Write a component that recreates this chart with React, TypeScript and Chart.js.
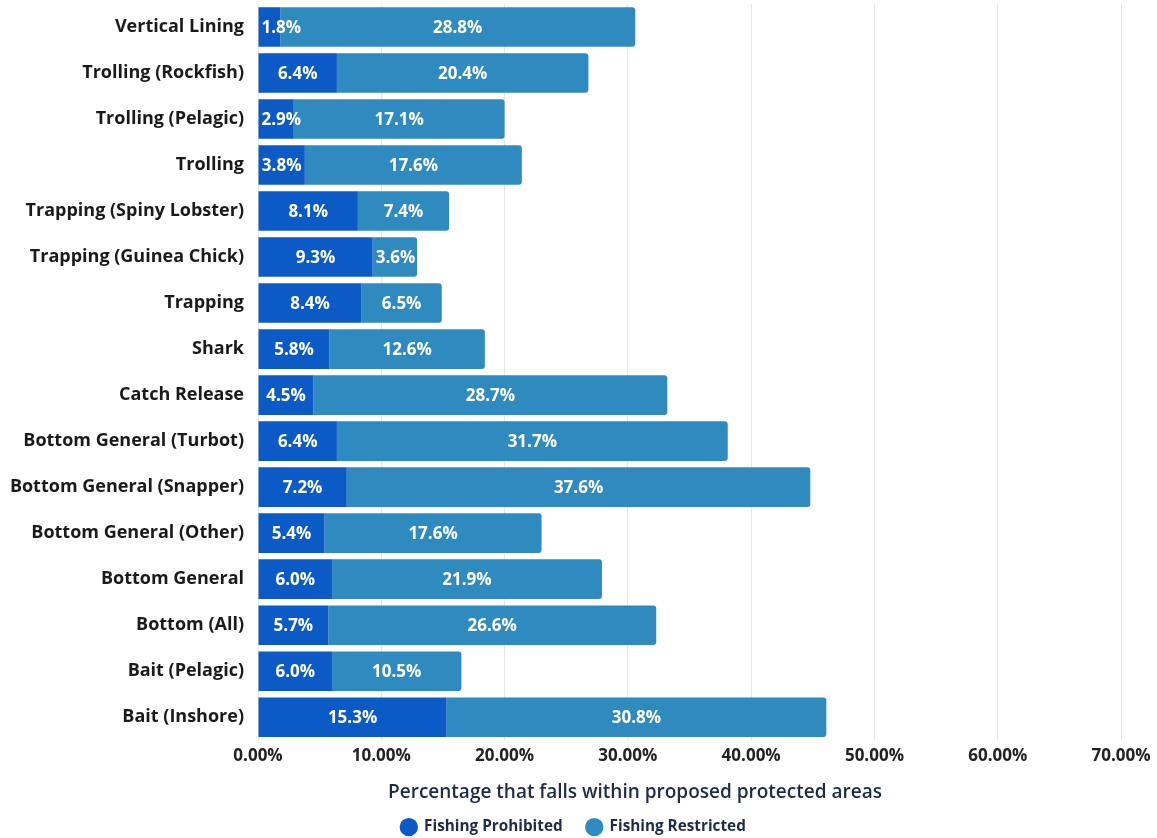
import React, { useEffect, useRef } from "react";
import { Chart, registerables } from "chart.js";

Chart.register(...registerables);

const categories = [
  "Vertical Lining",
  "Trolling (Rockfish)",
  "Trolling (Pelagic)",
  "Trolling",
  "Trapping (Spiny Lobster)",
  "Trapping (Guinea Chick)",
  "Trapping",
  "Shark",
  "Catch Release",
  "Bottom General (Turbot)",
  "Bottom General (Snapper)",
  "Bottom General (Other)",
  "Bottom General",
  "Bottom (All)",
  "Bait (Pelagic)",
  "Bait (Inshore)",
];

const prohibited = [1.8, 6.4, 2.9, 3.8, 8.1, 9.3, 8.4, 5.8, 4.5, 6.4, 7.2, 5.4, 6.0, 5.7, 6.0, 15.3];
const restricted = [28.8, 20.4, 17.1, 17.6, 7.4, 3.6, 6.5, 12.6, 28.7, 31.7, 37.6, 17.6, 21.9, 26.6, 10.5, 30.8];

const seriesNames = ["Fishing Prohibited", "Fishing Restricted"];
const axisTitle = "Percentage that falls within proposed protected areas";
const xTicks = [0, 10, 20, 30, 40, 50, 60, 70];

const FONT = "'Open Sans', 'DejaVu Sans', sans-serif";

const barLabels = {
  id: "barLabels",
  afterDatasetsDraw(chart: any) {
    const ctx = chart.ctx;
    ctx.save();
    ctx.font = `700 17px ${FONT}`;
    ctx.fillStyle = "#ffffff";
    ctx.textBaseline = "middle";
    ctx.textAlign = "center";
    chart.data.datasets.forEach((ds: any, di: number) => {
      const meta = chart.getDatasetMeta(di);
      meta.data.forEach((el: any, i: number) => {
        const v = ds.data[i];
        const txt = v.toFixed(1) + "%";
        const w = ctx.measureText(txt).width;
        const left = Math.min(el.x, el.base);
        const right = Math.max(el.x, el.base);
        let cx = (left + right) / 2;
        if (cx - w / 2 < left + 3) cx = left + 3 + w / 2;
        ctx.fillText(txt, cx, el.y + 1);
      });
    });
    ctx.restore();
  },
};

const axisTitlePlugin = {
  id: "axisTitlePlugin",
  afterLayout(chart: any) {
    if (chart.legend) {
      chart.legend.left += 13;
      chart.legend.right += 13;
    }
  },
  afterDraw(chart: any) {
    const ctx = chart.ctx;
    ctx.save();
    ctx.font = `600 19px ${FONT}`;
    ctx.fillStyle = "#1e2a4a";
    ctx.textAlign = "center";
    ctx.textBaseline = "middle";
    ctx.fillText(axisTitle, 635, 793);
    ctx.restore();
  },
};

export default function App() {
  const ref = useRef<HTMLCanvasElement | null>(null);
  useEffect(() => {
    if (!ref.current) return;
    const chart = new Chart(ref.current, {
      type: "bar",
      data: {
        labels: categories,
        datasets: [
          {
            label: seriesNames[0],
            data: prohibited,
            backgroundColor: "#0b5ac6",
            borderRadius: 3,
            categoryPercentage: 1,
            barPercentage: 0.86,
          },
          {
            label: seriesNames[1],
            data: restricted,
            backgroundColor: "#2e8abf",
            borderRadius: 3,
            categoryPercentage: 1,
            barPercentage: 0.86,
          },
        ],
      },
      options: {
        indexAxis: "y",
        animation: false,
        responsive: true,
        maintainAspectRatio: false,
        layout: { padding: { top: 4, right: 36, left: 0, bottom: -6.75 } },
        scales: {
          x: {
            stacked: true,
            min: 0,
            max: 70,
            afterBuildTicks: (scale: any) => {
              scale.ticks = xTicks.map((v) => ({ value: v }));
            },
            afterFit: (scale: any) => {
              scale.height = 55.25;
            },
            grid: { color: "#e6e6e6", drawTicks: false },
            border: { display: false },
            ticks: {
              padding: 6,
              color: "#222222",
              font: { family: FONT, size: 17, weight: "700" },
              callback: (v: any) => Number(v).toFixed(2) + "%",
            },
          },
          y: {
            stacked: true,
            afterFit: (scale: any) => {
              scale.width = 258;
              scale.paddingTop = 0;
              scale.paddingBottom = 0;
            },
            grid: { display: false, drawTicks: false },
            border: { display: false },
            ticks: {
              padding: 14,
              color: "#1a1a1a",
              font: { family: FONT, size: 18, weight: "700" },
            },
          },
        },
        plugins: {
          legend: {
            position: "bottom",
            labels: {
              usePointStyle: true,
              pointStyle: "circle",
              boxWidth: 19,
              boxHeight: 13,
              padding: 24,
              color: "#1e2a4a",
              font: { family: FONT, size: 15.3, weight: "700" },
            },
          },
          tooltip: { enabled: false },
        },
      },
      plugins: [barLabels, axisTitlePlugin],
    });
    return () => chart.destroy();
  }, []);
  return (
    <div style={{ position: "absolute", left: 0, top: 0, width: 1157, height: 838, background: "#ffffff" }}>
      <canvas ref={ref} />
    </div>
  );
}
